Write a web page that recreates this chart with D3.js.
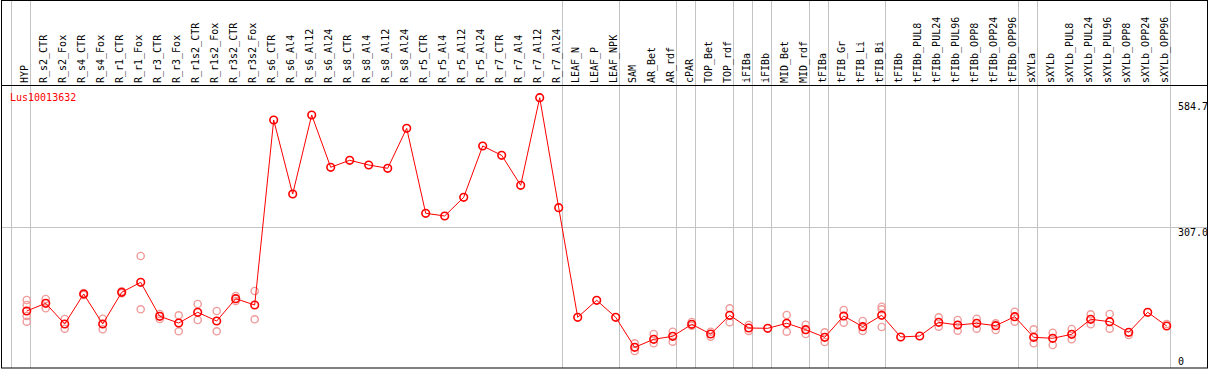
<!DOCTYPE html>
<html>
<head>
<meta charset="utf-8">
<script src="https://cdn.jsdelivr.net/npm/d3@7"></script>
<style>
  body { margin: 0; background: #fff; }
  svg { display: block; }
  text { font-family: "DejaVu Sans Mono", monospace; font-size: 10px; }
</style>
</head>
<body>
<div id="chart"></div>
<script>
const geneName = "Lus10013632";

const categories = ["HYP", "R_s2_CTR", "R_s2_Fox", "R_s4_CTR", "R_s4_Fox", "R_r1_CTR", "R_r1_Fox",
    "R_r3_CTR", "R_r3_Fox", "R_r1s2_CTR", "R_r1s2_Fox", "R_r3s2_CTR", "R_r3s2_Fox",
    "R_s6_CTR", "R_s6_Al4", "R_s6_Al12", "R_s6_Al24", "R_s8_CTR", "R_s8_Al4", "R_s8_Al12", "R_s8_Al24",
    "R_r5_CTR", "R_r5_Al4", "R_r5_Al12", "R_r5_Al24", "R_r7_CTR", "R_r7_Al4", "R_r7_Al12", "R_r7_Al24",
    "LEAF_N", "LEAF_P", "LEAF_NPK", "SAM", "AR_Bet", "AR_rdf", "cPAR", "TOP_Bet", "TOP_rdf",
    "iFIBa", "iFIBb", "MID_Bet", "MID_rdf", "tFIBa", "tFIB_Gr", "tFIB_Li", "tFIB_Bi", "tFIBb",
    "tFIBb_PUL8", "tFIBb_PUL24", "tFIBb_PUL96", "tFIBb_OPP8", "tFIBb_OPP24", "tFIBb_OPP96",
    "sXYLa", "sXYLb", "sXYLb_PUL8", "sXYLb_PUL24", "sXYLb_PUL96", "sXYLb_OPP8", "sXYLb_OPP24", "sXYLb_OPP96"];

// mean expression per sample
const meanValues = [126.7, 143.2, 98.8, 163.2, 98.8, 166.8, 188.3, 115.3, 100.9, 123.9, 105.2, 153.1, 139.6,
    536.8, 377.9, 547.6, 435.3, 450.3, 440.2, 433.1, 519.0, 336.5, 330.7, 370.8, 481.0, 461.0, 396.6, 584.7, 348.5,
    113.2, 149.7, 113.2, 48.7, 65.9, 72.4, 98.1, 77.3, 117.5, 90.2, 89.5, 100.3, 86.6, 70.2, 116.0, 93.0, 117.5, 70.9,
    73.0, 102.4, 96.6, 100.3, 95.2, 114.5, 70.2, 68.1, 76.7, 108.9, 103.7, 81.0, 123.9, 94.5];

// replicate values per sample (only those visible)
const replicates = [
    [150.3, 139.6, 116.0, 103.7], [152.5, 132.5], [109.5, 88.7], [165, 161], [110.2, 87.4], [165, 169],
    [244.8, 130.3], [120.3, 109.5], [117.5, 83.1], [141.7, 107.4], [126.7, 83.1], [158.9, 148.2], [169.6, 108.9],
    [], [], [], [], [], [], [], [], [], [], [], [], [], [], [], [],
    [], [], [], [57.3, 40.8], [77.3, 57.3], [82.2, 60.8], [103.1, 95.1], [82.2, 71.5], [132.5, 102.4],
    [96.6, 83.8], [], [118.1, 82.2], [97.3, 77.3], [81.0, 60.1], [128.8, 101.6], [105.2, 83.8], [135.9, 130.3, 92.3], [],
    [], [113.2, 93.0], [107.4, 84.4], [110.2, 88.7], [100.3, 85.9], [125.2, 103.7],
    [87.4, 57.3], [80.1, 53.7], [88.0, 65.9], [119.6, 98.1], [120.3, 88.7], [75.2], [], [98.8]];

// a grey separator follows these samples
const separatorAfter = ["HYP", "R_r7_Al24", "LEAF_NPK", "AR_rdf", "cPAR", "TOP_rdf", "iFIBa", "iFIBb",
    "MID_rdf", "tFIBa", "tFIB_Bi", "tFIBb_OPP96", "sXYLa", "sXYLb_OPP96"];

const axisTicks = [0, 307.0, 584.7];

const width = 1209;
const height = 370;

let svg = d3.select("#chart")
    .append("svg")
    .attr("width", width)
    .attr("height", height);

let x = d3.scalePoint()
    .domain(categories)
    .range([26.7, 26.7 + 19 * (categories.length - 1)]);

let y = d3.scaleLinear()
    .domain([0, 584.7])
    .range([370, 97.7]);

const grey = "#c4c4c4";

// grey vertical separators (one before the first column too)
let sepX = [x(categories[0]) - 19 + 3.7].concat(separatorAfter.map(function (c) { return x(c) + 3.7; }));
svg.append("g")
    .selectAll("line")
    .data(sepX)
    .enter()
    .append("line")
    .attr("x1", function (d) { return Math.round(d) + 0.5; })
    .attr("x2", function (d) { return Math.round(d) + 0.5; })
    .attr("y1", 0)
    .attr("y2", 368)
    .attr("stroke", grey)
    .attr("stroke-width", 1);

// middle horizontal grid line
svg.append("line")
    .attr("x1", 1)
    .attr("x2", 1208)
    .attr("y1", Math.round(y(axisTicks[1])) + 0.5)
    .attr("y2", Math.round(y(axisTicks[1])) + 0.5)
    .attr("stroke", grey);

// frame + header separator
svg.append("rect")
    .attr("x", 1.5)
    .attr("y", 0.5)
    .attr("width", 1206)
    .attr("height", 367.5)
    .attr("fill", "none")
    .attr("stroke", "#000");
svg.append("line")
    .attr("x1", 1)
    .attr("x2", 1208)
    .attr("y1", 85.5)
    .attr("y2", 85.5)
    .attr("stroke", "#000");

// column labels, rotated
svg.append("g")
    .selectAll("text")
    .data(categories)
    .enter()
    .append("text")
    .attr("transform", function (d) { return "translate(" + (x(d) + 1) + ",83) rotate(-90)"; })
    .attr("fill", "#000")
    .text(function (d) { return d; });

// gene title
svg.append("text")
    .attr("x", 10)
    .attr("y", 101)
    .attr("fill", "red")
    .text(geneName);

// axis value labels on the right
svg.append("g")
    .selectAll("text")
    .data(axisTicks)
    .enter()
    .append("text")
    .attr("x", 1178)
    .attr("y", function (d, i) { return [365, 236, 110][i]; })
    .attr("fill", "#000")
    .text(function (d) { return d === 0 ? "0" : d.toFixed(1); });

// replicate points
let reps = [];
replicates.forEach(function (vals, i) {
    vals.forEach(function (v) { reps.push({ cat: categories[i], value: v }); });
});
svg.append("g")
    .selectAll("circle")
    .data(reps)
    .enter()
    .append("circle")
    .attr("cx", function (d) { return x(d.cat); })
    .attr("cy", function (d) { return y(d.value); })
    .attr("r", 3.6)
    .attr("fill", "none")
    .attr("stroke", "#f09a9a")
    .attr("stroke-width", 1.4);

// mean line
let means = categories.map(function (c, i) { return { cat: c, value: meanValues[i] }; });
svg.append("path")
    .datum(means)
    .attr("fill", "none")
    .attr("stroke", "red")
    .attr("stroke-width", 1)
    .attr("d", d3.line()
        .x(function (d) { return x(d.cat); })
        .y(function (d) { return y(d.value); }));

svg.append("g")
    .selectAll("circle")
    .data(means)
    .enter()
    .append("circle")
    .attr("cx", function (d) { return x(d.cat); })
    .attr("cy", function (d) { return y(d.value); })
    .attr("r", 3.8)
    .attr("fill", "none")
    .attr("stroke", "red")
    .attr("stroke-width", 1.6);
</script>
</body>
</html>
